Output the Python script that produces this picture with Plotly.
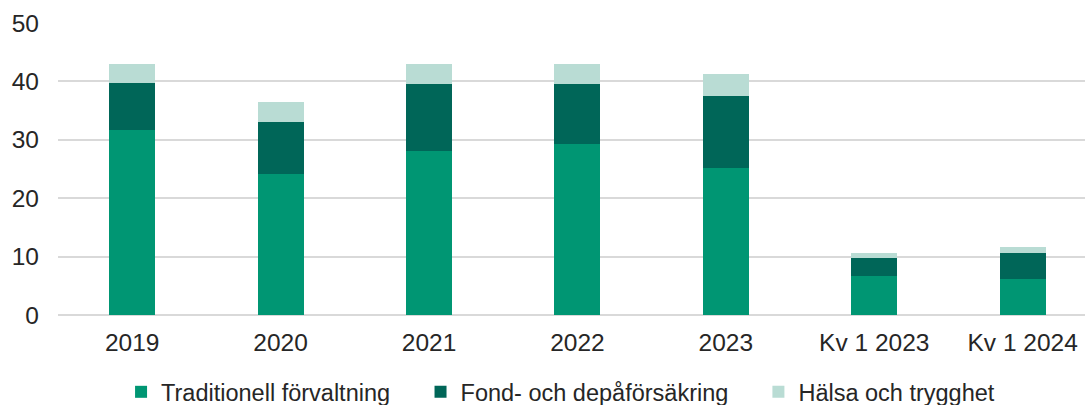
import plotly.graph_objects as go

categories = ["2019", "2020", "2021", "2022", "2023", "Kv 1 2023", "Kv 1 2024"]
traditionell = [31.7, 24.1, 28.1, 29.2, 25.1, 6.6, 6.2]
fond = [8.1, 8.9, 11.4, 10.3, 12.4, 3.1, 4.5]
halsa = [3.2, 3.4, 3.5, 3.5, 3.7, 1.0, 1.0]
series_names = ["Traditionell förvaltning", "Fond- och depåförsäkring", "Hälsa och trygghet"]
y_ticks = [0, 10, 20, 30, 40, 50]

colors = ["#009673", "#006658", "#B9DCD4"]
FONT = "Liberation Sans, Arial, sans-serif"
TXT = "#262626"

fig = go.Figure()
legends = ["legend", "legend2", "legend3"]
for vals, name, col, lg in zip([traditionell, fond, halsa], series_names, colors, legends):
    fig.add_trace(go.Bar(
        x=categories, y=vals, name=name, marker=dict(color=col, line=dict(width=0)),
        width=0.31, legend=lg, showlegend=True,
    ))

legend_x = [0.0614, 0.353, 0.682]
common = dict(orientation="h", yref="container", yanchor="middle", y=0.032, xanchor="left",
              font=dict(family=FONT, size=23.5, color=TXT), bgcolor="rgba(0,0,0,0)")
fig.update_layout(
    barmode="stack",
    showlegend=True,
    width=1085, height=405,
    margin=dict(l=58, r=0, t=23, b=90),
    paper_bgcolor="white", plot_bgcolor="white",
    font=dict(family=FONT, size=24, color=TXT),
    legend=dict(x=legend_x[0], **common),
    legend2=dict(x=legend_x[1], **common),
    legend3=dict(x=legend_x[2], **common),
    xaxis=dict(range=[-0.5, 6.42], showgrid=False, showline=False, ticks="", automargin=False,
               tickfont=dict(family=FONT, size=24.5, color=TXT), ticklabelstandoff=10),
    yaxis=dict(range=[0, 50], tickvals=y_ticks, showgrid=True, gridcolor="#D9D9D9", gridwidth=1.5,
               zeroline=True, zerolinecolor="#D9D9D9", zerolinewidth=1.5, automargin=False,
               showline=False, ticks="", tickfont=dict(family=FONT, size=24.5, color=TXT),
               ticklabelstandoff=18),
)
fig.write_html("out.html", config={"displayModeBar": False},
               post_script="document.body.style.margin='0';document.body.style.overflow='hidden';")
